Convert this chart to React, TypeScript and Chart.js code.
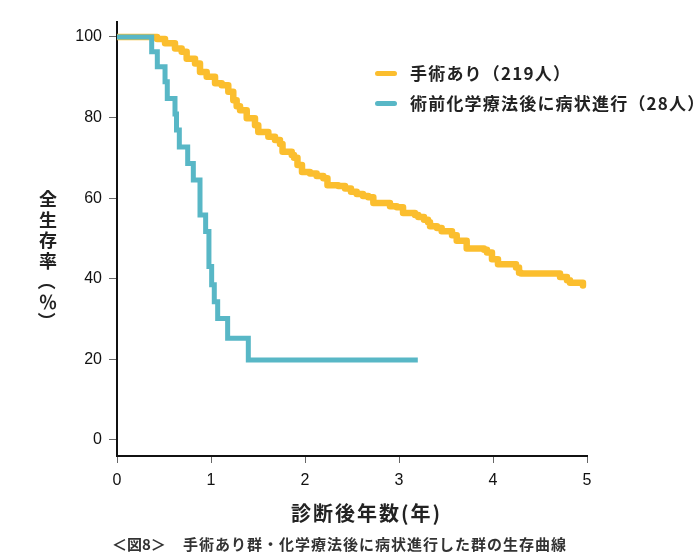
import React, { useEffect, useRef } from 'react';
import { Chart, registerables } from 'chart.js';

Chart.register(...registerables);

// ---- data ----
const surgeryYears = [
  0, 0.383, 0.426, 0.511, 0.617, 0.688, 0.741, 0.83, 0.883, 0.954, 1.043, 1.114, 1.184, 1.237, 1.273,
  1.309, 1.38, 1.468, 1.503, 1.61, 1.681, 1.734, 1.761, 1.859, 1.883, 1.92, 1.968, 2.053, 2.124, 2.195,
  2.239, 2.354, 2.426, 2.489, 2.55, 2.617, 2.673, 2.727, 2.904, 2.976, 3.043, 3.17, 3.205, 3.266, 3.309,
  3.33, 3.404, 3.454, 3.564, 3.614, 3.72, 3.904, 3.936, 3.989, 4.053, 4.245, 4.277, 4.298, 4.713, 4.787,
  4.819, 4.957,
];
const surgerySurvival = [
  100, 100, 99.5, 98.4, 97.1, 96.3, 94.6, 93.4, 91.3, 90.1, 88.5, 88.0, 86.4, 84.3, 82.8,
  81.8, 79.8, 78.1, 76.4, 75.2, 74.4, 73.4, 71.5, 70.7, 70.0, 68.2, 66.5, 66.1, 65.5, 64.9,
  63.2, 63.0, 62.4, 61.6, 61.0, 60.5, 60.2, 58.8, 58.0, 57.7, 56.3, 55.8, 55.3, 54.6, 54.0,
  53.0, 52.6, 51.8, 50.8, 49.4, 47.5, 47.2, 46.5, 44.8, 43.6, 42.8, 41.5, 41.3, 40.4, 39.6,
  39.0, 38.3,
];
const progressYears = [
  0, 0.369, 0.429, 0.511, 0.535, 0.617, 0.633, 0.663, 0.752, 0.812, 0.883, 0.943, 0.978, 1.007,
  1.035, 1.071, 1.177, 1.397, 3.2,
];
const progressSurvival = [
  100, 96.3, 92.6, 88.9, 84.7, 80.9, 76.9, 72.7, 68.6, 64.5, 55.8, 51.7, 43.0, 38.5,
  34.3, 30.1, 25.2, 19.8, 19.8,
];
const xTicks = [0, 1, 2, 3, 4, 5];
const yTicks = [0, 20, 40, 60, 80, 100];
const legendLabels = ['手術あり（219人）', '術前化学療法後に病状進行（28人）'];
const xTitle = '診断後年数(年)';
const yTitle = '全生存率（％）';
const captionLabel = '＜図8＞';
const captionText = '手術あり群・化学療法後に病状進行した群の生存曲線';

const YELLOW = 'rgb(251,190,46)';
const TEAL = 'rgb(88,183,198)';
const JP = '"Noto Sans CJK JP", "Noto Sans", sans-serif';
const NUM = '"Liberation Sans", Arial, sans-serif';

export default function App() {
  const canvasRef = useRef<HTMLCanvasElement | null>(null);

  useEffect(() => {
    const canvas = canvasRef.current;
    if (!canvas) return;
    const chart = new Chart(canvas, {
      type: 'line',
      data: {
        datasets: [
          {
            label: legendLabels[1],
            data: progressYears.map((x, i) => ({ x, y: progressSurvival[i] })),
            borderColor: TEAL,
            backgroundColor: TEAL,
            borderWidth: 5,
            stepped: 'before',
            pointRadius: 0,
            fill: false,
            borderJoinStyle: 'miter',
            borderCapStyle: 'butt',
            order: 0,
          },
          {
            label: legendLabels[0],
            data: surgeryYears.map((x, i) => ({ x, y: surgerySurvival[i] })),
            borderColor: YELLOW,
            backgroundColor: YELLOW,
            borderWidth: 6.5,
            stepped: 'before',
            pointRadius: 0,
            fill: false,
            borderJoinStyle: 'round',
            borderCapStyle: 'round',
            order: 1,
          },
        ],
      },
      options: {
        responsive: false,
        animation: false,
        events: [],
        layout: { padding: { left: 0, right: 113, top: 22, bottom: 0 } },
        plugins: { legend: { display: false }, tooltip: { enabled: false }, title: { display: false } },
        scales: {
          x: {
            type: 'linear',
            min: 0,
            max: 5,
            afterBuildTicks: (s: any) => {
              s.ticks = xTicks.map((v) => ({ value: v }));
            },
            afterFit: (s: any) => {
              s.height = 104;
            },
            grid: { drawOnChartArea: false, drawTicks: true, tickLength: 7, color: '#666', lineWidth: 1 },
            border: { display: true, color: '#111', width: 2 },
            ticks: { padding: 8, color: '#111', font: { family: NUM, size: 16 }, maxRotation: 0 },
          },
          y: {
            type: 'linear',
            min: -4,
            max: 103.7,
            afterBuildTicks: (s: any) => {
              s.ticks = yTicks.map((v) => ({ value: v }));
            },
            afterFit: (s: any) => {
              s.width = 117;
            },
            grid: { drawOnChartArea: false, drawTicks: true, tickLength: 8, color: '#666', lineWidth: 1 },
            border: { display: true, color: '#111', width: 2 },
            ticks: { padding: 7, color: '#111', font: { family: NUM, size: 16 } },
          },
        },
      },
    } as any);
    return () => chart.destroy();
  }, []);

  const legendRow = (color: string, text: string, top: number) => (
    <div style={{ position: 'absolute', left: 375, top, height: 20, display: 'flex', alignItems: 'center' }}>
      <div style={{ width: 22, height: 5, borderRadius: 3, background: color, marginRight: 13 }} />
      <span
        style={{
          fontFamily: JP,
          fontWeight: 700,
          fontSize: 17,
          letterSpacing: '1.2px',
          color: '#222',
          whiteSpace: 'nowrap',
          lineHeight: '20px',
        }}
      >
        {text}
      </span>
    </div>
  );

  const yCharHeight = (ch: string) => (ch === '（' || ch === '）' ? 22 : ch === '％' ? 18 : 20.5);

  return (
    <div style={{ position: 'absolute', left: 0, top: 0, width: 700, height: 560, background: '#fff' }}>
      <canvas ref={canvasRef} width={700} height={560} style={{ display: 'block', width: 700, height: 560 }} />
      {legendRow(YELLOW, legendLabels[0], 63)}
      {legendRow(TEAL, legendLabels[1], 93)}
      <div
        aria-label={yTitle}
        style={{
          position: 'absolute',
          left: 38,
          top: 188,
          width: 20,
          fontFamily: JP,
          fontWeight: 700,
          fontSize: 18,
          color: '#222',
        }}
      >
        {Array.from(yTitle).map((ch, i) => (
          <div
            key={i}
            style={{
              height: yCharHeight(ch),
              lineHeight: `${yCharHeight(ch)}px`,
              textAlign: 'center',
              transform: ch === '（' || ch === '）' ? 'rotate(90deg)' : undefined,
            }}
          >
            {ch}
          </div>
        ))}
      </div>
      <div
        style={{
          position: 'absolute',
          left: 291,
          top: 499,
          fontFamily: JP,
          fontWeight: 700,
          fontSize: 20,
          letterSpacing: '2px',
          lineHeight: '28px',
          color: '#222',
          whiteSpace: 'nowrap',
        }}
      >
        {xTitle}
      </div>
      <div
        style={{
          position: 'absolute',
          left: 112,
          top: 534,
          fontFamily: JP,
          fontWeight: 700,
          fontSize: 15,
          lineHeight: '20px',
          color: '#333',
          whiteSpace: 'nowrap',
        }}
      >
        {captionLabel}
      </div>
      <div
        style={{
          position: 'absolute',
          left: 183,
          top: 534,
          fontFamily: JP,
          fontWeight: 700,
          fontSize: 15,
          letterSpacing: '1px',
          lineHeight: '20px',
          color: '#333',
          whiteSpace: 'nowrap',
        }}
      >
        {captionText}
      </div>
    </div>
  );
}
